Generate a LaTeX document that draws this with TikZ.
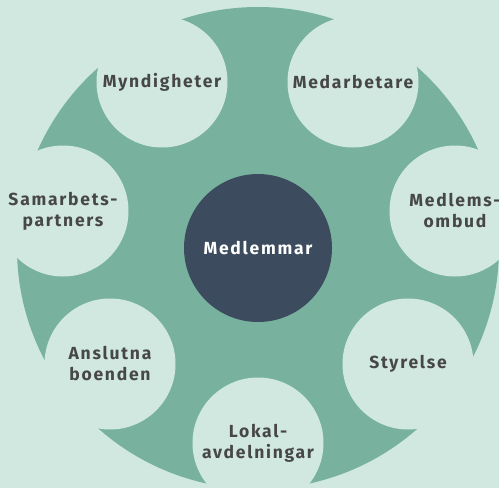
\documentclass[tikz,border=0pt]{standalone}
\usepackage{fontspec}
\setmainfont{Fira Sans}
\usepackage{tikz}
\usetikzlibrary{positioning}
\definecolor{bgmint}{HTML}{D0E8DF}
\definecolor{ringgreen}{HTML}{78B29E}
\definecolor{hubblue}{HTML}{3C4C5E}
\definecolor{labelgray}{HTML}{474747}
\tikzset{
  member/.style={circle,fill=bgmint,minimum size=131pt,inner sep=0pt,align=center,text=labelgray,
    font=\fontsize{17.5}{21}\selectfont\bfseries\addfontfeatures{LetterSpace=10}},
  hub/.style={circle,fill=hubblue,minimum size=148pt,inner sep=0pt,text=white,
    font=\fontsize{17.5}{21}\selectfont\bfseries\addfontfeatures{LetterSpace=10}}
}

\begin{document}
\begin{tikzpicture}[x=1pt,y=-1pt]
\fill[bgmint] (0,0) rectangle (499,488);
\useasboundingbox (0,0) rectangle (499,488);
\fill[ringgreen] (258,248) circle[radius=241pt];
\node[hub] (medlemmar) at (258,248) {Medlemmar};
\node[member] (myndigheter) at (162,82) {Myndigheter};
\node[member] (medarbetare) at (353,82) {Medarbetare};
\node[member] (samarbetspartners) at (63,211) {Samarbets-\\partners};
\node[member] (medlemsombud) at (455,211) {Medlems-\\ombud};
\node[member] (anslutna) at (110,364) {Anslutna\\boenden};
\node[member] (styrelse) at (408,364) {Styrelse};
\node[member] (lokalavd) at (258,443) {Lokal-\\avdelningar};
\end{tikzpicture}
\end{document}
